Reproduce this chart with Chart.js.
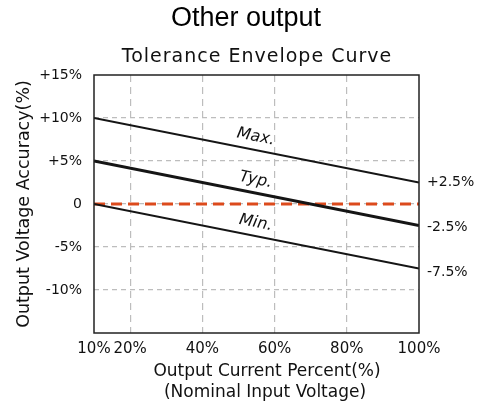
<!DOCTYPE html>
<html>
<head>
<meta charset="utf-8">
<script src="https://cdn.jsdelivr.net/npm/chart.js@4"></script>
<style>
  html, body { margin: 0; padding: 0; background: #fff; }
  #wrap { width: 481px; height: 408px; }
</style>
</head>
<body>
<div id="wrap"><canvas id="chart"></canvas></div>
<script>
// Tolerance envelope data (output current % vs. accuracy %)
const loadPercent = [10, 100];
const maxAccuracy = [10, 2.5];
const typAccuracy = [5, -2.5];
const minAccuracy = [0, -7.5];
const nominalLine = [0, 0];
const curveNames = ['Max.', 'Typ.', 'Min.'];
const xTickValues = [10, 20, 40, 60, 80, 100];
const yTickValues = [-15, -10, -5, 0, 5, 10, 15];
const chartTitle = 'Other output';
const chartSubtitle = 'Tolerance Envelope Curve';
const xTitleLines = ['Output Current Percent(%)', '(Nominal Input Voltage)'];

const FONT = 'DejaVu Sans';

function toPoints(values) {
  return loadPercent.map((x, i) => ({ x: x, y: values[i] }));
}

// titles, frame, curve names along the lines and end values on the right
const envelopeLabels = {
  id: 'envelopeLabels',
  afterDatasetsDraw(chart) {
    const { ctx, chartArea: a, scales } = chart;
    const xs = scales.x, ys = scales.y;
    ctx.save();

    // titles (centred over the whole picture, not the plot)
    ctx.fillStyle = '#000';
    ctx.textAlign = 'center';
    ctx.textBaseline = 'middle';
    ctx.font = '27px Liberation Sans';
    ctx.fillText(chartTitle, 246, 19);
    ctx.font = '19px ' + FONT;
    if ('letterSpacing' in ctx) ctx.letterSpacing = '1px';
    ctx.fillStyle = '#111';
    ctx.fillText(chartSubtitle, 257, 57);
    if ('letterSpacing' in ctx) ctx.letterSpacing = '0px';

    // x axis title, two lines
    ctx.font = '17px ' + FONT;
    ctx.fillText(xTitleLines[0], 267, 372);
    ctx.fillText(xTitleLines[1], 265, 393);

    ctx.setLineDash([]);
    ctx.strokeStyle = '#222';
    ctx.lineWidth = 1.5;
    ctx.strokeRect(a.left, a.top, a.right - a.left, a.bottom - a.top);

    for (let i = 0; i < 3; i++) {
      const d = chart.data.datasets[i].data;
      const x0 = xs.getPixelForValue(d[0].x), y0 = ys.getPixelForValue(d[0].y);
      const x1 = xs.getPixelForValue(d[1].x), y1 = ys.getPixelForValue(d[1].y);
      const ang = Math.atan2(y1 - y0, x1 - x0);
      const t = 0.49;
      const px = x0 + (x1 - x0) * t, py = y0 + (y1 - y0) * t;
      ctx.save();
      ctx.translate(px, py);
      ctx.rotate(ang);
      ctx.font = 'italic 16px ' + FONT;
      ctx.textAlign = 'center';
      ctx.textBaseline = 'middle';
      ctx.fillText(chart.data.datasets[i].label, 0, -13);
      ctx.restore();

      // end value on the right side
      const v = d[1].y;
      ctx.font = '14px ' + FONT;
      ctx.textAlign = 'left';
      ctx.textBaseline = 'middle';
      ctx.fillText((v > 0 ? '+' : '') + v + '%', a.right + 8, y1 + i * 2);
    }
    ctx.restore();
  }
};

const ctx = document.getElementById('chart').getContext('2d');
new Chart(ctx, {
  type: 'line',
  data: {
    datasets: [
      { label: curveNames[0], data: toPoints(maxAccuracy), borderColor: '#151515', borderWidth: 2, pointRadius: 0 },
      { label: curveNames[1], data: toPoints(typAccuracy), borderColor: '#151515', borderWidth: 3, pointRadius: 0 },
      { label: curveNames[2], data: toPoints(minAccuracy), borderColor: '#151515', borderWidth: 2, pointRadius: 0 },
      { label: 'Nominal', data: toPoints(nominalLine), borderColor: '#dc4a1c', borderWidth: 3, borderDash: [11, 6], pointRadius: 0 }
    ]
  },
  options: {
    responsive: true,
    maintainAspectRatio: false,
    animation: false,
    layout: { padding: { left: 0, right: 62, top: 75, bottom: 0 } },
    plugins: {
      legend: { display: false },
      tooltip: { enabled: false }
    },
    scales: {
      x: {
        type: 'linear',
        min: 10,
        max: 100,
        afterBuildTicks: s => { s.ticks = xTickValues.map(v => ({ value: v })); },
        afterFit: s => { s.height = 75; },
        ticks: {
          autoSkip: false,
          maxRotation: 0,
          padding: 7,
          color: '#111',
          font: { family: FONT, size: 15 },
          callback: v => v + '%'
        },
        grid: {
          drawTicks: false,
          lineWidth: 1.2,
          color: c => (c.tick && (c.tick.value === 10 || c.tick.value === 100)) ? 'rgba(0,0,0,0)' : '#bdbdbd'
        },
        border: { display: false, dash: [7, 5] }
      },
      y: {
        min: -15,
        max: 15,
        afterBuildTicks: s => { s.ticks = yTickValues.map(v => ({ value: v })); },
        afterFit: s => { s.width = 94; },
        ticks: {
          padding: 12,
          color: '#111',
          font: { family: FONT, size: 14 },
          callback: v => v === 0 ? '0' : (v === -15 ? '' : (v > 0 ? '+' : '') + v + '%')
        },
        grid: {
          drawTicks: false,
          lineWidth: 1.2,
          color: c => (c.tick && Math.abs(c.tick.value) === 15) ? 'rgba(0,0,0,0)' : '#bdbdbd'
        },
        border: { display: false, dash: [5, 4] },
        title: {
          display: true,
          text: 'Output Voltage Accuracy(%)',
          color: '#111',
          font: { family: FONT, size: 17.5, lineHeight: 1.2 },
          padding: { top: 13.5, bottom: 0 }
        }
      }
    }
  },
  plugins: [envelopeLabels]
});
</script>
</body>
</html>
